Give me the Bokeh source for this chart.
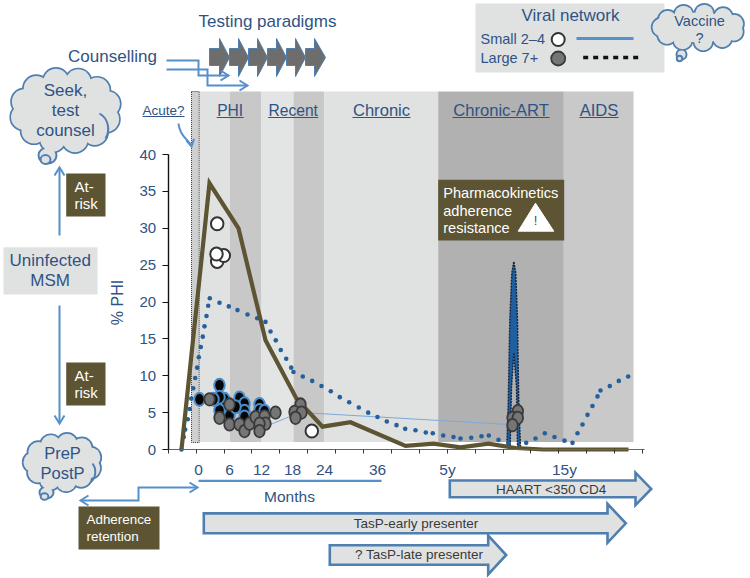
import math
from bokeh.plotting import figure
from bokeh.models import Range1d, LinearAxis, FixedTicker
from bokeh.core.properties import value
from bokeh.embed import file_html
from bokeh.resources import INLINE

FONT = value("Liberation Sans")
NAVY = "#2f5384"
BLUE = "#5590cc"
EDGE = "#4f7fb0"
OLIVE = "#5c5433"
PALE = "#e0e2e2"

# --- data (x = position along the time axis, 0 at the "0" month label; y = % PHI)
solid_x = [-17, 11, 40, 67, 98, 124, 152, 207, 235, 262, 290, 317, 345, 430]
solid_y = [0, 36.1, 30, 14.8, 6.9, 3.1, 3.7, 0.5, 0.8, 0.3, 0.8, 0.2, 0, 0]

dot_x = [-17, -14.7, -13.3, -10.7, -8.7, -7.3, -5.3, -3.3, -1.3, 0.3, 2.3, 4.3, 6, 8, 9.7, 11.3,
         21, 30.3, 39, 49, 58.7, 67, 72, 77.3, 82.3, 87.7, 92.7, 95, 104.3, 113.7, 123, 132.3,
         141.3, 150.7, 160.3, 169.7, 179, 188.3, 198, 206.7, 217, 227.3, 234.3, 244.7, 255, 262,
         272.7, 283, 290.3, 300, 310, 327.7, 337, 346.3, 356, 366, 374, 379, 384, 389, 394, 399,
         402, 411.3, 420.3, 429.7]
dot_y = [0, 1.7, 2.7, 4.1, 5.5, 6.9, 8.3, 9.7, 11.1, 12.5, 13.9, 15.3, 16.7, 18.1, 19.5, 20.5,
         19.9, 19.4, 18.9, 18.3, 17.8, 17.3, 16, 14.8, 13.5, 12.3, 11.1, 10.5, 9.9, 9.3, 8.6, 7.9,
         7.1, 6.4, 5.7, 5.0, 4.4, 3.8, 3.3, 2.8, 2.6, 2.3, 2.2, 1.9, 1.7, 1.5,
         1.6, 1.8, 1.9, 1.3, 0.8, 0.9, 1.5, 2.2, 1.7, 1.2, 0.9, 2.2, 3.4, 4.7, 5.9, 7.2,
         8.0, 8.6, 9.3, 9.9]

link_x = [72, 92, 105, 309]
link_y = [3.4, 4.5, 5.0, 3.4]

spike_x = [308.3, 309.7, 311.3, 313.3, 315.3, 317.3, 319, 320.3, 322, 319, 318, 315.3, 313, 311.7]
spike_y = [0.4, 6.2, 17.5, 23.9, 25.5, 23.9, 17.5, 6.2, 0.4, 0.4, 8.4, 13.1, 8.4, 0.4]

small_x = [18.7, 18.7, 25.3, 18, 113.3]
small_y = [30.6, 25.5, 26.3, 26.5, 2.5]

black_x = [1, 21, 21, 17, 26, 41, 46, 46, 31, 37, 61, 61, 66, 21, 46, 15]
black_y = [6.8, 8.7, 5.3, 6.8, 6.8, 7.0, 6.2, 5.2, 4.6, 5.8, 6.1, 5.3, 5.2, 7.1, 4.4, 6.8]

large_x = [11, 31, 21, 31, 41, 46, 51, 57, 66, 67, 61, 61, 77, 102, 96, 103, 97, 319.3, 314, 319.3, 314]
large_y = [6.8, 6.1, 4.3, 3.4, 3.4, 2.5, 3.5, 4.4, 4.5, 3.5, 3.5, 2.5, 5.0, 6.1, 5.1, 5.0, 4.3, 5.2, 4.3, 4.3, 3.3]

band_left = [1, 31.3, 63, 95, 125.7, 239.7, 365.3]
band_right = [31.3, 63, 95, 125.7, 239.7, 365.3, 435]
band_color = ["#e0e1e1", "#c8c8c8", "#e3e4e4", "#c8c8c8", "#e0e1e1", "#b1b1b1", "#c9c9c9"]

y_ticks = [0, 5, 10, 15, 20, 25, 30, 35, 40]
x_ticks = [-30.3, -2.4, 25.5, 53.4, 81.3, 109.2, 137.1, 165, 192.9, 220.8, 248.7, 276.6, 304.5,
           332.4, 360.3, 388.2, 416.1, 444]
x_label_pos = [0, 31, 63, 94, 126, 179, 249, 366]
x_labels = ["0", "6", "12", "18", "24", "36", "5y", "15y"]

phases = ["PHI", "Recent", "Chronic", "Chronic-ART", "AIDS"]

# --- canvas: one unit = one pixel horizontally; 7.375 pixels per % PHI
W, H = 750, 578
p = figure(width=W, height=H, output_backend="svg", toolbar_location=None,
           x_range=Range1d(-198, W - 198), y_range=Range1d((449 - H) / 7.375, 449 / 7.375),
           x_axis_location=None, y_axis_location=None, min_border=0, outline_line_color=None)
p.grid.visible = False
p.extra_x_ranges["px"] = Range1d(0, W)
p.extra_y_ranges["py"] = Range1d(H, 0)
DEC = dict(x_range_name="px", y_range_name="py")


def txt(x, y, s, size=15, color=NAVY, align="center", angle=0):
    p.text([x], [y], text=[s], text_font=FONT, text_font_size=f"{size}px", text_color=color,
           text_align=align, text_baseline="middle", angle=angle, **DEC)


def rect(x0, y0, x1, y1, fill, line=None, lw=1):
    p.quad(left=[x0], right=[x1], top=[y0], bottom=[y1], fill_color=fill, line_color=line, line_width=lw, **DEC)


def poly(xs, ys, color=BLUE, lw=2):
    p.line(xs, ys, line_color=color, line_width=lw, line_join="miter", **DEC)


def head(x, y, dx, dy, size=8, spread=5, color=BLUE, lw=2):
    n = math.hypot(dx, dy)
    ux, uy = dx / n, dy / n
    poly([x - ux * size - uy * spread, x, x - ux * size + uy * spread],
         [y - uy * size + ux * spread, y, y - uy * size - ux * spread], color, lw)


def block_arrow(x0, ymid, hb, x1, body, headh):
    xs = [x0, hb, hb, x1, hb, hb, x0, x0]
    ys = [ymid - body, ymid - body, ymid - headh, ymid, ymid + headh, ymid + body, ymid + body, ymid - body]
    p.patch(xs, ys, fill_color=PALE, line_color=EDGE, line_width=2.6, line_join="miter", **DEC)


def cloud(cx, cy, rx, ry, n, r, tail):
    xs = [cx + rx * math.cos(2 * math.pi * i / n + 0.3) for i in range(n)]
    ys = [cy + ry * math.sin(2 * math.pi * i / n + 0.3) for i in range(n)]
    p.scatter(xs, ys, size=2 * r, fill_color=EDGE, line_color=EDGE, line_width=2.4, **DEC)
    p.ellipse([tail[0]], [tail[1]], width=tail[2] * 2, height=tail[3] * 2, fill_color=PALE,
              line_color=EDGE, line_width=2, **DEC)
    p.ellipse([tail[0] - 2], [tail[1] + 4], width=tail[2] * 1.1, height=tail[3] * 1.1, fill_color=PALE,
              line_color=EDGE, line_width=2, **DEC)
    p.scatter(xs, ys, size=2 * r - 1, fill_color=PALE, line_color=None, **DEC)
    p.ellipse([cx], [cy], width=2 * rx + 2, height=2 * ry + 2, fill_color=PALE, line_color=None, **DEC)


# bands
p.quad(left=band_left, right=band_right, top=(449 - 91) / 7.375, bottom=(449 - 441.5) / 7.375,
       fill_color=band_color, line_color=None)
p.quad(left=[-7], right=[0.7], top=[(449 - 91) / 7.375], bottom=[(449 - 442) / 7.375], fill_color="#cfcfcf",
       line_color="#333333", line_width=1, line_dash="1 1")

# axes
ax_y = LinearAxis(fixed_location=-30.3, ticker=FixedTicker(ticks=y_ticks), bounds=(0, 40), axis_line_color="#111111",
                  axis_line_width=1.4, major_tick_line_color="#111111", major_tick_line_width=1.2,
                  major_tick_in=0, major_tick_out=6, minor_tick_line_color=None,
                  major_label_text_color=NAVY, major_label_text_font="Liberation Sans",
                  major_label_text_font_size="15px", major_label_standoff=6)
p.add_layout(ax_y, "left")
ax_x = LinearAxis(fixed_location=0, ticker=FixedTicker(ticks=x_ticks), bounds=(-30.3, 446), axis_line_color="#666666",
                  axis_line_width=1.2, major_tick_line_color="#333333", major_tick_line_width=1,
                  major_tick_in=0, major_tick_out=4, minor_tick_line_color=None,
                  major_label_text_color=None)
p.add_layout(ax_x, "below")
ax_lab = LinearAxis(fixed_location=0, ticker=FixedTicker(ticks=x_label_pos), axis_line_color=None,
                    major_tick_line_color=None, major_tick_in=0, major_tick_out=0, minor_tick_line_color=None,
                    major_label_overrides=dict(zip(x_label_pos, x_labels)), major_label_text_color=NAVY,
                    major_label_text_font="Liberation Sans", major_label_text_font_size="15.5px",
                    major_label_standoff=11)
p.add_layout(ax_lab, "below")

# series
p.patch(spike_x, spike_y, fill_color="#1f5f9f", line_color="#10243f", line_width=1.4, line_dash="2 1")
p.line(link_x, link_y, line_color="#7fa8d8", line_width=1)
p.scatter(dot_x, dot_y, size=4.6, fill_color="#24609c", line_color=None)
p.line(solid_x, solid_y, line_color=OLIVE, line_width=4.2, line_join="miter")
p.ellipse(black_x, black_y, width=10.5, height=13, width_units="screen", height_units="screen",
          fill_color="#050505", line_color="#4a8cc9", line_width=2)
p.ellipse(large_x, large_y, width=10.5, height=12.5, width_units="screen", height_units="screen",
          fill_color="#757575", line_color="#3a3a3a", line_width=1.8)
p.ellipse(small_x, small_y, width=12.5, height=13, width_units="screen", height_units="screen",
          fill_color="#ffffff", line_color="#333333", line_width=2)

# phase headers
phase_cx = [229.7, 292.7, 381, 500.5, 598.5]
phase_hw = [13.5, 25, 29, 48.5, 19.5]
phase_fs = [15.6, 15.6, 16.6, 16.6, 16.6]
for s, c, hw, fs in zip(phases, phase_cx, phase_hw, phase_fs):
    txt(c, 110, s, fs)
    p.line([c - hw, c + hw], [117, 117], line_color=NAVY, line_width=1, **DEC)
txt(163, 110, "Acute?", 13.5)
p.line([142, 184], [116, 116], line_color=NAVY, line_width=1, **DEC)
p.bezier(x0=[178], y0=[123], x1=[191], y1=[145], cx0=[179], cy0=[134], cx1=[186], cy1=[138],
         line_color=BLUE, line_width=2, **DEC)
head(191, 146, 0.2, 1, 7, 4)
txt(117, 302, "% PHI", 16, angle=math.pi / 2)

# top: testing paradigms
txt(267, 21, "Testing paradigms", 17)
chev_l = [209, 229, 248, 267, 286, 305]
chev_h = [219, 238, 257, 276, 295, 314]
chev_t = [229, 248, 267, 286, 305, 325]
for l, h_, t in zip(chev_l, chev_h, chev_t):
    p.patch([l, h_, h_, t, h_, h_, l], [48, 48, 38, 57, 76, 65, 65], fill_color="#6d6d6d", line_color=EDGE,
            line_width=1, **DEC)
txt(112, 56, "Counselling", 17)
poly([166, 198, 198, 228], [60, 60, 75, 75])
head(228, 75, 1, 0)
poly([166, 207, 207, 247], [69, 69, 85, 85])
head(247, 85, 1, 0)

# legend box
rect(475, 3, 664, 72, PALE)
txt(570, 15, "Viral network", 17)
txt(480, 38, "Small 2–4", 14.5, align="left")
txt(480, 57, "Large 7+", 14.5, align="left")
p.scatter([557.7], [39], size=13, fill_color="#ffffff", line_color="#333333", line_width=2, **DEC)
p.scatter([557.7], [58], size=14, fill_color="#757575", line_color="#3a3a3a", line_width=1.8, **DEC)
p.line([576, 633], [38, 38], line_color=BLUE, line_width=3, **DEC)
p.line([582.7, 639], [57, 57], line_color="#111111", line_width=3.6, line_dash="5 5", **DEC)

# clouds
cloud(65, 110, 43, 30, 12, 13, (47, 155, 9, 8))
p.bezier(x0=[99], y0=[113], x1=[105], y1=[138], cx0=[108], cy0=[118], cx1=[110], cy1=[130],
         line_color=EDGE, line_width=2, **DEC)
txt(65, 90, "Seek,", 17)
txt(65, 110, "test", 17)
txt(65, 130, "counsel", 17)
cloud(62, 462, 29, 19, 11, 10.5, (46, 492, 7, 6))
p.bezier(x0=[92], y0=[463], x1=[90], y1=[482], cx0=[96], cy0=[468], cx1=[96], cy1=[477],
         line_color=EDGE, line_width=2, **DEC)
txt(62, 452, "PreP", 16.5)
txt(62, 472, "PostP", 16.5)
cloud(698, 27, 37, 14, 11, 9.5, (681, 54, 5, 5))
txt(699, 20, "Vaccine", 14.5)
txt(699, 37, "?", 14.5)

# left flow
rect(3, 246.7, 97, 294, PALE)
txt(49.7, 260, "Uninfected", 17)
txt(49.7, 279.5, "MSM", 17)
poly([59, 59], [235, 168])
head(59, 167, 0, -1, 8, 5)
poly([59, 59], [305, 422])
head(59, 423, 0, 1, 8, 5)
rect(65.7, 173, 105, 216, OLIVE)
txt(74, 186, "At-", 15, "#ffffff", "left")
txt(74, 203, "risk", 15, "#ffffff", "left")
rect(65.7, 362, 105, 405, OLIVE)
txt(74, 375, "At-", 15, "#ffffff", "left")
txt(74, 392, "risk", 15, "#ffffff", "left")

# warning box
rect(437.7, 179.3, 563.7, 240, OLIVE)
txt(442.7, 192, "Pharmacokinetics", 14.6, "#ffffff", "left")
txt(442.7, 210, "adherence", 14.6, "#ffffff", "left")
txt(442.7, 227, "resistance", 14.6, "#ffffff", "left")
p.patch([535, 517.7, 553.3], [202.7, 230.7, 230.7], fill_color="#ffffff", line_color="#ffffff", **DEC)
txt(535, 220, "!", 13)

# months
poly([198, 381], [480.3, 480.3], BLUE, 2.2)
txt(289, 496, "Months", 15.5)
poly([80, 138, 138, 197], [500, 500, 487, 487])
head(80, 500, -1, 0)
head(197, 487, 1, 0)
rect(78, 506, 159, 549, OLIVE)
txt(86, 519, "Adherence", 13.4, "#ffffff", "left")
txt(86, 536, "retention", 13.4, "#ffffff", "left")

# treatment arrows
block_arrow(449.3, 488.4, 635, 650.7, 8.4, 16.2)
txt(550.8, 489, "HAART <350 CD4", 13.5, "#3a3a3a")
block_arrow(203.3, 522.8, 607, 625.3, 9.9, 19.5)
txt(415.5, 522.7, "TasP-early presenter", 13.5, "#3a3a3a")
block_arrow(329.3, 554.5, 487.7, 505.7, 9.7, 19.5)
txt(418.7, 554.3, "? TasP-late presenter", 13.5, "#3a3a3a")

open("out.html", "w").write(file_html(p, INLINE))
